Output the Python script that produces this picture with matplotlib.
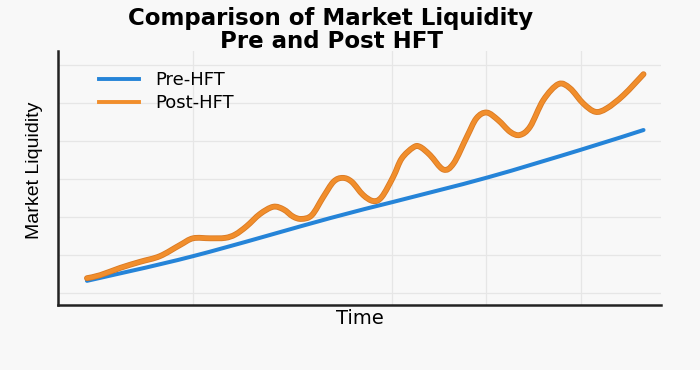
import matplotlib
matplotlib.use("Agg")
import matplotlib.pyplot as plt
import matplotlib.patheffects as pe
from matplotlib.path import Path
from matplotlib.patches import PathPatch
from matplotlib.lines import Line2D

# ---- data (x = time, arbitrary 0-100; y = liquidity) ----
pre_time = [4.8, 22.4, 45.1, 55.4, 71.2, 86.7, 97.1]
pre_liq = [13.2, 19.7, 29.7, 33.9, 40.4, 47.7, 52.9]

post_time = [4.8, 7.0, 10.3, 13.6, 16.9, 20.2, 22.4, 25.2, 27.7, 29.4, 31.3, 33.5,
             35.7, 37.4, 39.0, 40.4, 42.1, 44.0, 45.7, 47.2, 48.7, 50.6, 52.3,
             53.7, 55.6, 57.0, 58.9, 60.0, 61.7, 63.9, 65.6, 67.8, 69.4, 71.1,
             73.0, 75.0, 76.6, 78.3, 80.5, 83.0, 84.9, 87.1, 89.1, 91.0, 93.8,
             97.1]
post_liq = [13.9, 14.7, 16.6, 18.2, 19.7, 22.6, 24.4, 24.4, 24.5, 25.4, 27.6, 30.8,
            32.7, 32.0, 30.1, 29.5, 30.5, 35.3, 39.3, 40.3, 39.3, 35.8, 34.2,
            35.3, 40.6, 45.4, 48.3, 48.5, 46.3, 42.5, 44.1, 51.1, 56.0, 57.5,
            55.5, 52.4, 51.6, 53.8, 60.8, 65.0, 63.9, 59.9, 57.7, 58.6, 62.1,
            67.6]

x_grid = [22.4, 55.4, 71.0, 86.7]
y_grid = [10, 20, 30, 40, 50, 60, 70]

title_lines = ["Comparison of Market Liquidity", "Pre and Post HFT"]
xlabel = "Time"
ylabel = "Market Liquidity"
labels = ["Pre-HFT", "Post-HFT"]

BLUE = "#2584d8"
ORANGE = "#f18e2c"
ORANGE_EDGE = "#d97a24"
BG = "#f8f8f8"


def smooth_path(xs, ys):
    """Cubic Bezier path passing through every data point (Catmull-Rom tangents)."""
    pts = list(zip(xs, ys))
    n = len(pts)
    verts = [pts[0]]
    codes = [Path.MOVETO]
    for i in range(n - 1):
        p0 = pts[i - 1] if i > 0 else pts[i]
        p1 = pts[i]
        p2 = pts[i + 1]
        p3 = pts[i + 2] if i + 2 < n else pts[i + 1]
        c1 = (p1[0] + (p2[0] - p0[0]) / 6, p1[1] + (p2[1] - p0[1]) / 6)
        c2 = (p2[0] - (p3[0] - p1[0]) / 6, p2[1] - (p3[1] - p1[1]) / 6)
        verts += [c1, c2, p2]
        codes += [Path.CURVE4] * 3
    return Path(verts, codes)


fig = plt.figure(figsize=(7.0, 3.7), dpi=100, facecolor=BG)
ax = fig.add_axes([58 / 700, 1 - 305 / 370, (661 - 58) / 700, (305 - 51) / 370])
ax.set_facecolor(BG)

ax.add_patch(PathPatch(smooth_path(pre_time, pre_liq), fill=False, edgecolor=BLUE,
                       lw=2.9, capstyle="round", zorder=3))
ax.add_patch(PathPatch(smooth_path(post_time, post_liq), fill=False,
                       edgecolor=ORANGE, lw=3.0, capstyle="round", joinstyle="round",
                       zorder=4,
                       path_effects=[pe.Stroke(linewidth=4.2, foreground=ORANGE_EDGE),
                                     pe.Normal()]))

ax.set_xlim(0, 100)
ax.set_ylim(6.84, 73.7)
ax.set_xticks(x_grid)
ax.set_yticks(y_grid)
ax.tick_params(length=0, labelbottom=False, labelleft=False)
ax.grid(True, color="#e6e6e6", lw=0.9)
ax.set_axisbelow(True)

for s in ["top", "right"]:
    ax.spines[s].set_visible(False)
for s in ["left", "bottom"]:
    ax.spines[s].set_color("#222222")
    ax.spines[s].set_linewidth(1.8)

ax.set_xlabel(xlabel, fontsize=14, family="DejaVu Sans", labelpad=3)
ax.set_ylabel(ylabel, fontsize=14, family=["Liberation Sans", "DejaVu Sans"])
ax.yaxis.set_label_coords(-0.025, 0.53)

fig.text(331 / 700, 1 - 19 / 370, title_lines[0], ha="center", va="center",
         fontsize=16.5, fontweight="bold", family="DejaVu Sans")
fig.text(331 / 700, 1 - 41 / 370, title_lines[1], ha="center", va="center",
         fontsize=16.5, fontweight="bold", family="DejaVu Sans")

handles = [Line2D([], [], color=BLUE, lw=2.8),
           Line2D([], [], color=ORANGE, lw=2.8)]
leg = ax.legend(handles, labels, loc="upper left", bbox_to_anchor=(0.068, 0.92),
                frameon=False, fontsize=13, handlelength=2.2, handletextpad=0.9,
                labelspacing=0.25, borderpad=0, borderaxespad=0)

fig.savefig("out.png", dpi=100, facecolor=BG)
